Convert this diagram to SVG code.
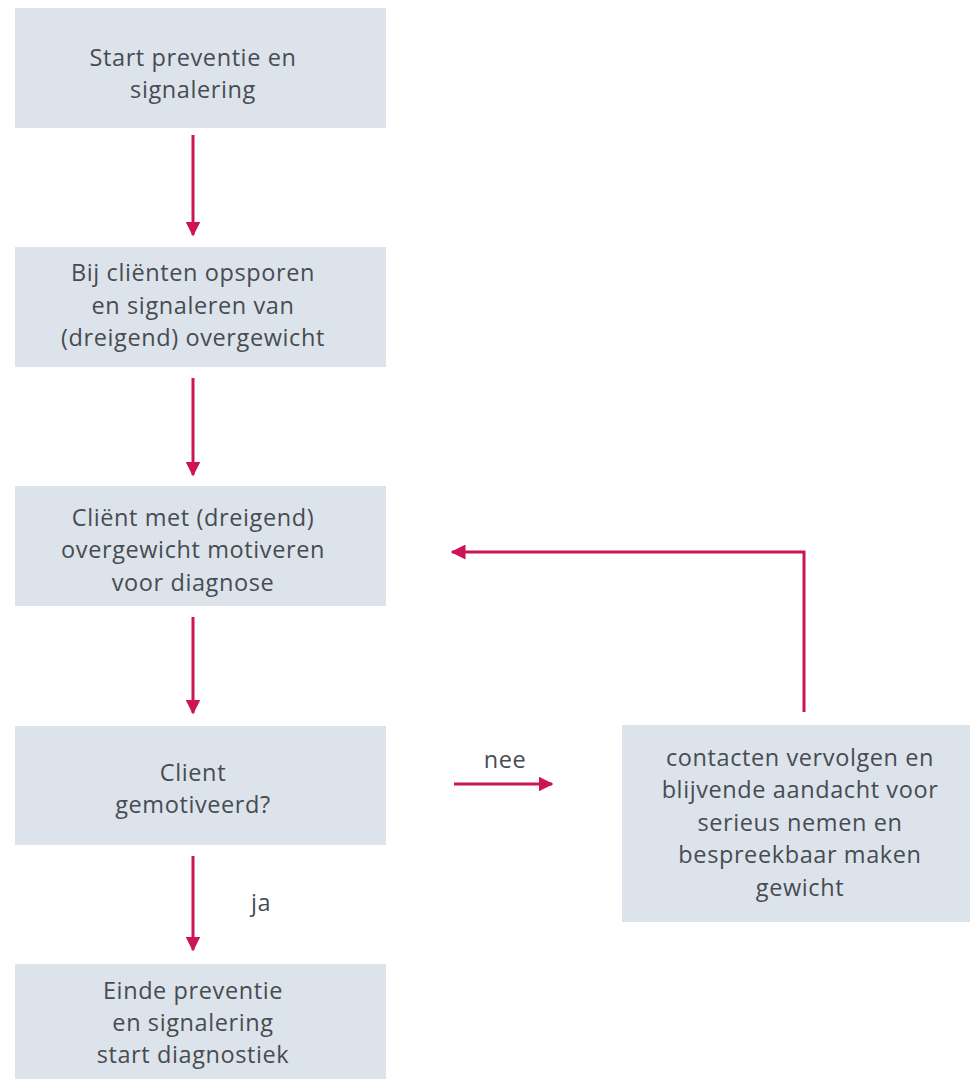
<svg xmlns="http://www.w3.org/2000/svg" width="970" height="1079" viewBox="0 0 970 1079">
<style>
.box{fill:#dde3ea}
.t{font-family:"Open Sans","Noto Sans",sans-serif;font-size:23.5px;fill:#474c53;text-anchor:middle;letter-spacing:0.6px}
.c{stroke:#cc1558;stroke-width:3;fill:none}
</style>
<defs>
<marker id="ah" viewBox="0 0 10 10" refX="9" refY="5" markerWidth="5" markerHeight="5" orient="auto" markerUnits="strokeWidth">
<path d="M0,0 L10,5 L0,10 z" fill="#cc1558"/>
</marker>
</defs>
<rect width="970" height="1079" fill="#ffffff"/>
<g id="n1">
<rect class="box" x="15" y="8" width="371" height="120"/>
<text class="t" x="193" y="66">Start preventie en</text>
<text class="t" x="193" y="98">signalering</text>
</g>
<g id="n2">
<rect class="box" x="15" y="247" width="371" height="120"/>
<text class="t" x="193" y="281">Bij cliënten opsporen</text>
<text class="t" x="193" y="314">en signaleren van</text>
<text class="t" x="193" y="346">(dreigend) overgewicht</text>
</g>
<g id="n3">
<rect class="box" x="15" y="486" width="371" height="120"/>
<text class="t" x="193" y="526">Cliënt met (dreigend)</text>
<text class="t" x="193" y="558">overgewicht motiveren</text>
<text class="t" x="193" y="591">voor diagnose</text>
</g>
<g id="n4">
<rect class="box" x="15" y="726" width="371" height="119"/>
<text class="t" x="193" y="781">Client</text>
<text class="t" x="193" y="813">gemotiveerd?</text>
</g>
<g id="n5">
<rect class="box" x="15" y="964" width="371" height="115"/>
<text class="t" x="193" y="999">Einde preventie</text>
<text class="t" x="193" y="1031">en signalering</text>
<text class="t" x="193" y="1063">start diagnostiek</text>
</g>
<g id="n6">
<rect class="box" x="622" y="725" width="348" height="197"/>
<text class="t" x="800" y="766">contacten vervolgen en</text>
<text class="t" x="800" y="798">blijvende aandacht voor</text>
<text class="t" x="800" y="831">serieus nemen en</text>
<text class="t" x="800" y="863">bespreekbaar maken</text>
<text class="t" x="800" y="896">gewicht</text>
</g>
<g id="connectors">
<line class="c" x1="193" y1="135" x2="193" y2="235" marker-end="url(#ah)"/>
<line class="c" x1="193" y1="378" x2="193" y2="475" marker-end="url(#ah)"/>
<line class="c" x1="193" y1="617" x2="193" y2="713" marker-end="url(#ah)"/>
<line class="c" x1="193" y1="856" x2="193" y2="950" marker-end="url(#ah)"/>
<line class="c" x1="454" y1="784" x2="552" y2="784" marker-end="url(#ah)"/>
<polyline class="c" points="804,712 804,552 452,552" marker-end="url(#ah)"/>
<text class="t" x="505" y="768">nee</text>
<text class="t" x="261" y="911">ja</text>
</g>
</svg>
